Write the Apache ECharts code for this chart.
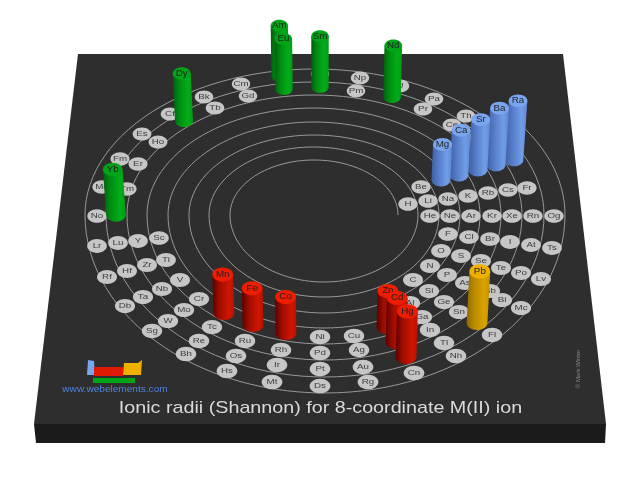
<!DOCTYPE html>
<html><head><meta charset="utf-8">
<style>html,body{margin:0;padding:0;background:#fff}#c{width:640px;height:480px}</style>
<script src="https://cdn.jsdelivr.net/npm/echarts@6/dist/echarts.min.js"></script>
</head><body><div id="c"></div>
<script>
// Values (chart axes: x 0-640, y 0-480 downward)
const titleText = "Ionic radii (Shannon) for 8-coordinate M(II) ion";
const siteText = "www.webelements.com";
const creditText = "\u00a9 Mark Winter";

const barSymbols = ["Am","Nd","Sm","Eu","Dy","Ra","Ba","Sr","Ca","Mg","Yb","Mn","Fe","Pb","Zn","Co","Cd","Hg"];
const barX       = [280,392,320,284,184,514,496,478,459,441,116,224,253,477,387,286,396,406];
const barY       = [76,97,87,89,121,160,165,170,175,180,215,313,325,323,327,333,342,357];
const barValues  = [126,129,127,125,119,148,142,126,112,89,114,96,92,129,90,90,110,114];
const barBlocks  = ["f","f","f","f","f","s","s","s","s","s","f","d","d","p","d","d","d","d"];

const discSymbols = ["H","He","Li","Be","Na","K","Rb","Cs","Fr","Ne","Ar","Kr","Xe","Rn","Og",
 "F","Cl","Br","I","At","Ts","O","S","Se","Te","Po","Lv","N","P","As","Sb","Bi","Mc",
 "C","Si","Ge","Sn","Fl","Al","Ga","In","Tl","Nh","Cn","Cu","Ag","Au","Rg",
 "Ni","Pd","Pt","Ds","Rh","Ir","Mt","Ru","Os","Hs","Tc","Re","Bh","Cr","Mo","W","Sg",
 "V","Nb","Ta","Db","Ti","Zr","Hf","Rf","Sc","Y","Lu","Lr","No","Tm","Md","Er","Fm","Ho","Es",
 "Cf","Tb","Bk","Gd","Cm","Pu","Pm","Np","U","Pr","Pa","Ce","Th","La","Ac"];
const discX = [408,430,428,421,448,468,488,508,527,450,471,492,512,533,554,
 448,469,490,510,531,552,441,461,481,501,521,541,430,447,465,490,502,521,
 413,429,444,459,492,410,422,430,444,456,414,354,359,363,368,
 320,320,320,320,281,277,272,245,236,227,212,199,186,199,184,168,152,
 180,162,143,125,166,147,127,107,159,138,118,97,97,127,102,138,120,158,142,
 170,215,204,248,241,320,356,360,400,423,434,452,466,473,490];
const discY = [204,216,201,187,199,196,193,190,188,216,216,216,216,216,216,
 234,237,239,242,245,248,251,256,261,268,273,279,266,275,283,291,300,308,
 280,291,302,312,335,303,317,330,343,356,373,336,350,367,382,
 337,353,369,386,350,365,382,341,356,371,327,341,354,299,310,321,331,
 280,289,297,306,260,265,271,277,238,241,243,246,216,189,187,164,159,142,134,
 114,108,97,96,84,74,91,78,86,109,99,125,116,140,128];

// Spiral guide lines, one entry per turn
const ringRight  = [398,418,439,460,480,501,522,544];
const ringLeft   = [230,209,189,168,147,127,106,85];
const ringTop    = [160,147,135,122,108,95,82,69];
const ringBottom = [282,297,313,328,344,360,377,393];
const ringNextRight = [418,439,460,480,501,522,544,565];
const ringMidY = 215;
const lastArc = {right:565, left:64, top:56};

const plateTop   = [[78,54],[563,54],[606,424],[34,424]];
const plateFront = [[34,424],[606,424],[605,443],[36,443]];
const logoBlue   = [[88,360],[94,361],[95,375],[87,375]];
const logoRed    = [[94,367],[123,367],[123,376],[94,376]];
const logoGold   = [[124,363],[138,363],[142,360],[141,375],[123,375]];
const logoGreen  = [[93,378],[135,378],[135,383],[93,383]];

const sideColors = {
  s:["#3d60a4","#5479c4","#719de8","#5f88d2"],
  p:["#8f6800","#b88a00","#d8a200","#c49200"],
  d:["#5c0000","#9a0c00","#cf1600","#b81200"],
  f:["#005e0c","#008a12","#00ae18","#009a14"]
};
const topColors = {s:"#7aa6f0",p:"#f0b000",d:"#ee1c00",f:"#00a416"};
const blockHeightPerPm = 0.4;
const FONT = '"Liberation Sans", Arial, sans-serif';

function buildSpiral(){
  const pts = [];
  for(let n=0;n<ringTop.length;n++){
    const cT=(ringRight[n]+ringLeft[n])/2, rxT=(ringRight[n]-ringLeft[n])/2, ryT=ringMidY-ringTop[n];
    for(let k=0;k<=60;k++){const a=Math.PI*k/60; pts.push([cT+rxT*Math.cos(a), ringMidY-ryT*Math.sin(a)]);}
    const cB=(ringNextRight[n]+ringLeft[n])/2, rxB=(ringNextRight[n]-ringLeft[n])/2, ryB=ringBottom[n]-ringMidY;
    for(let k=1;k<=60;k++){const a=Math.PI*k/60; pts.push([cB-rxB*Math.cos(a), ringMidY+ryB*Math.sin(a)]);}
  }
  const c=(lastArc.right+lastArc.left)/2, rx=(lastArc.right-lastArc.left)/2, ry=ringMidY-lastArc.top;
  for(let k=1;k<=16;k++){const a=0.7*k/16; pts.push([c+rx*Math.cos(a), ringMidY-ry*Math.sin(a)]);}
  return pts;
}
const spiral = buildSpiral();

function polygons(list){
  return {type:'custom',coordinateSystem:'cartesian2d',silent:true,clip:false,
    data:list.map((l,i)=>[l.pts[0][0],l.pts[0][1],i]),
    renderItem(p,api){
      const l=list[p.dataIndex];
      return {type:'polygon',shape:{points:l.pts.map(q=>api.coord(q))},style:{fill:l.fill}};
    }};
}

const option = {
  animation:false,
  backgroundColor:'#ffffff',
  grid:{left:0,right:0,top:0,bottom:0},
  xAxis:{type:'value',min:0,max:640,show:false},
  yAxis:{type:'value',min:0,max:480,inverse:true,show:false},
  series:[
    polygons([{pts:plateFront,fill:'#1b1b1b'},{pts:plateTop,fill:'#2e2e2e'}]),
    {type:'custom',coordinateSystem:'cartesian2d',silent:true,clip:false,data:[spiral[0]],
     renderItem(p,api){
       return {type:'polyline',shape:{points:spiral.map(q=>api.coord(q))},style:{stroke:'#989898',lineWidth:1,fill:null}};
     }},
    polygons([{pts:logoBlue,fill:'#7aa6f0'},{pts:logoRed,fill:'#e01a00'},{pts:logoGold,fill:'#f0b000'},{pts:logoGreen,fill:'#00a416'}]),
    {type:'custom',coordinateSystem:'cartesian2d',silent:true,clip:false,
     data:[[115,390],[578,369],[320.5,408]],
     renderItem(p,api){
       const c=api.coord([api.value(0),api.value(1)]);
       if(p.dataIndex===0) return {type:'text',x:c[0],y:c[1],scaleX:1.12,style:{text:siteText,fill:'#4f82dc',font:'9px '+FONT,textAlign:'center',textVerticalAlign:'middle'}};
       if(p.dataIndex===2) return {type:'text',x:c[0],y:c[1],scaleX:1.16,style:{text:titleText,fill:'#dadada',font:'17px '+FONT,textAlign:'center',textVerticalAlign:'middle'}};
       return {type:'text',x:c[0],y:c[1],rotation:Math.PI/2,style:{text:creditText,fill:'#8a8a8a',font:'6px '+FONT,textAlign:'center',textVerticalAlign:'middle'}};
     }},
    {type:'custom',coordinateSystem:'cartesian2d',silent:true,clip:false,
     data:discSymbols.map((s,i)=>[discX[i],discY[i]]),
     renderItem(p,api){
       const c=api.coord([api.value(0),api.value(1)]);
       const rx=9.2+(c[1]-84)*0.004, ry=rx*0.7;
       return {type:'group',children:[
         {type:'ellipse',shape:{cx:c[0],cy:c[1],rx:rx,ry:ry},style:{fill:'#c6c6c6'}},
         {type:'text',x:c[0],y:c[1],scaleX:1.22,style:{text:discSymbols[p.dataIndex],fill:'#3c3c3c',font:'8px '+FONT,textAlign:'center',textVerticalAlign:'middle'}}
       ]};
     }},
    {type:'custom',coordinateSystem:'cartesian2d',silent:true,clip:false,
     data:barSymbols.map((s,i)=>[barX[i],barY[i],barValues[i],i]).sort((a,b)=>a[1]-b[1]),
     renderItem(p,api){
       const bx=api.value(0), by=api.value(1), v=api.value(2), idx=api.value(3);
       const h=v*blockHeightPerPm;
       const lean=(bx-320)*0.02*(h/57);
       const base=api.coord([bx,by]), top=api.coord([bx+lean,by-h]);
       const rx=Math.min(10.4,8.6+(by-74)*0.0085), ry=rx*0.68;
       const pts=[[top[0]-rx,top[1]],[top[0]+rx,top[1]]];
       for(let k=0;k<=24;k++){const a=Math.PI*k/24; pts.push([base[0]+rx*Math.cos(a),base[1]+ry*Math.sin(a)]);}
       const col=sideColors[barBlocks[idx]];
       return {type:'group',children:[
         {type:'polygon',shape:{points:pts},style:{fill:new echarts.graphic.LinearGradient(0,0,1,0,[
           {offset:0,color:col[0]},{offset:0.3,color:col[1]},{offset:0.75,color:col[2]},{offset:1,color:col[3]}])}},
         {type:'ellipse',shape:{cx:top[0],cy:top[1],rx:rx,ry:ry},style:{fill:topColors[barBlocks[idx]]}},
         {type:'text',x:top[0],y:top[1],scaleX:1.15,style:{text:barSymbols[idx],fill:'#222222',font:'8.5px '+FONT,textAlign:'center',textVerticalAlign:'middle'}}
       ]};
     }}
  ]
};
const chart = echarts.init(document.getElementById('c'),null,{renderer:'canvas',width:640,height:480});
chart.setOption(option);
</script></body></html>
